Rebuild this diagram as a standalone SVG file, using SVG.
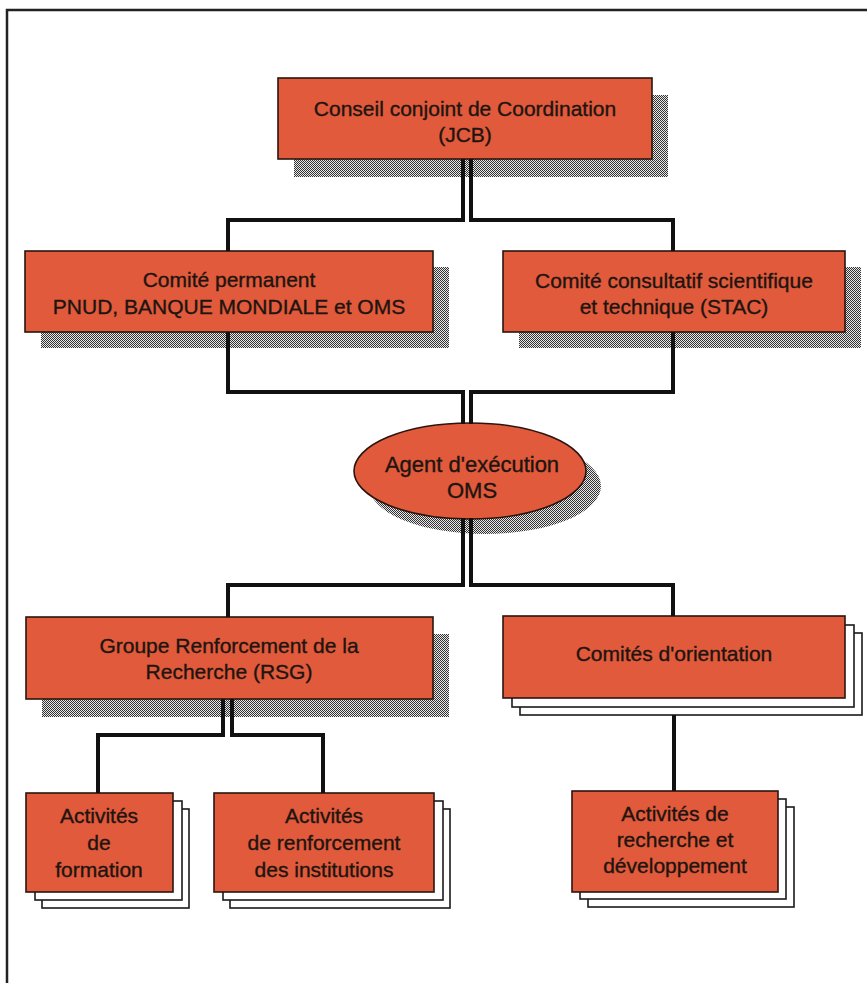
<svg xmlns="http://www.w3.org/2000/svg" width="867" height="983" viewBox="0 0 867 983">
<defs>
<pattern id="dither" width="2" height="2" patternUnits="userSpaceOnUse">
<rect width="2" height="2" fill="#e8e8e8"/>
<rect x="0" y="0" width="1" height="1" fill="#333333"/>
<rect x="1" y="1" width="1" height="1" fill="#333333"/>
</pattern>
</defs>
<style>
.box{fill:#e05a3b;stroke:#2a1510;stroke-width:1.6}
.shadow{fill:url(#dither)}
.sheet{fill:#ffffff;stroke:#1a1a1a;stroke-width:1.6}
.lbl{font-family:"Liberation Sans",Arial,Helvetica,sans-serif;font-size:21px;fill:#1e1410;stroke:#1e1410;stroke-width:0.35;text-anchor:middle}
.conn{fill:none;stroke:#111;stroke-width:4;stroke-linejoin:miter;stroke-linecap:butt}
.frame{fill:none;stroke:#222;stroke-width:2.5}
</style>
<rect width="867" height="983" fill="#ffffff"/>
<path class="frame" d="M7 983 V10 H867"/>

<g id="jcb">
<rect class="shadow" x="294" y="95" width="374" height="82"/>
<rect class="box" x="278" y="78" width="374" height="81"/>
<text class="lbl" x="465" y="116">Conseil conjoint de Coordination</text>
<text class="lbl" x="465" y="142">(JCB)</text>
</g>

<g id="comite-permanent">
<rect class="shadow" x="41" y="267" width="408" height="81"/>
<rect class="box" x="25" y="251" width="408" height="81"/>
<text class="lbl" x="229" y="287">Comité permanent</text>
<text class="lbl" x="229" y="314">PNUD, BANQUE MONDIALE et OMS</text>
</g>

<g id="stac">
<rect class="shadow" x="519" y="267" width="342" height="81"/>
<rect class="box" x="503" y="251" width="342" height="81"/>
<text class="lbl" x="674" y="288">Comité consultatif scientifique</text>
<text class="lbl" x="674" y="314">et technique (STAC)</text>
</g>

<g id="agent">
<ellipse class="shadow" cx="485" cy="486" rx="116" ry="48"/>
<ellipse class="box" cx="470" cy="471" rx="116" ry="48"/>
<text class="lbl" x="472" y="472" style="font-size:22px">Agent d'exécution</text>
<text class="lbl" x="472" y="498" style="font-size:22px">OMS</text>
</g>

<g id="rsg">
<rect class="shadow" x="42" y="634" width="407" height="83"/>
<rect class="box" x="26" y="617" width="407" height="82"/>
<text class="lbl" x="229" y="653">Groupe Renforcement de la</text>
<text class="lbl" x="229" y="679">Recherche (RSG)</text>
</g>

<g id="comites-orientation">
<rect class="sheet" x="520" y="633" width="342" height="82"/>
<rect class="sheet" x="512" y="625" width="342" height="82"/>
<rect class="box" x="503" y="616" width="342" height="82"/>
<text class="lbl" x="674" y="661">Comités d'orientation</text>
</g>

<g id="formation">
<rect class="sheet" x="42" y="809" width="147" height="99"/>
<rect class="sheet" x="35" y="801" width="147" height="99"/>
<rect class="box" x="26" y="793" width="147" height="99"/>
<text class="lbl" x="99" y="823">Activités</text>
<text class="lbl" x="99" y="850">de</text>
<text class="lbl" x="99" y="877">formation</text>
</g>

<g id="institutions">
<rect class="sheet" x="230" y="809" width="220" height="99"/>
<rect class="sheet" x="223" y="801" width="220" height="99"/>
<rect class="box" x="214" y="793" width="220" height="99"/>
<text class="lbl" x="324" y="823">Activités</text>
<text class="lbl" x="324" y="850">de renforcement</text>
<text class="lbl" x="324" y="877">des institutions</text>
</g>

<g id="recherche-developpement">
<rect class="sheet" x="588" y="807" width="206" height="100"/>
<rect class="sheet" x="580" y="799" width="206" height="100"/>
<rect class="box" x="572" y="791" width="206" height="101"/>
<text class="lbl" x="675" y="821">Activités de</text>
<text class="lbl" x="675" y="847">recherche et</text>
<text class="lbl" x="675" y="873">développement</text>
</g>

<g id="connectors">
<path class="conn" d="M463 159 V220 H228 V251"/>
<path class="conn" d="M471 159 V220 H673 V251"/>
<path class="conn" d="M228 332 V392 H463 V424"/>
<path class="conn" d="M673 332 V392 H471 V424"/>
<path class="conn" d="M463 518 V585 H228 V617"/>
<path class="conn" d="M471 518 V585 H673 V616"/>
<path class="conn" d="M223 699 V735 H98 V793"/>
<path class="conn" d="M232 699 V735 H323 V793"/>
<path class="conn" d="M674 715 V791"/>
</g>
</svg>
